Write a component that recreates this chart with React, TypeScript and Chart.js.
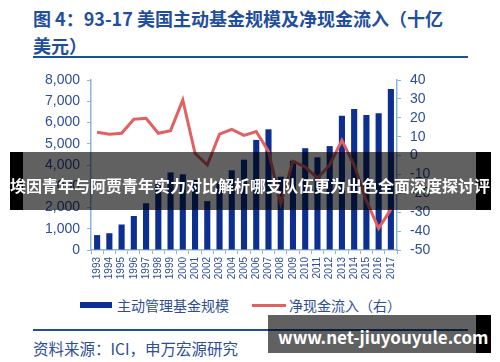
import React, { useEffect, useRef } from "react";
import { Chart, registerables } from "chart.js";

Chart.register(...registerables);

const years = [
  "1993", "1994", "1995", "1996", "1997", "1998", "1999", "2000", "2001", "2002",
  "2003", "2004", "2005", "2006", "2007", "2008", "2009", "2010", "2011", "2012",
  "2013", "2014", "2015", "2016", "2017",
];

const activeAum = [
  700, 790, 1200, 1600, 2200, 3100, 3650, 3560, 3300, 2300,
  3200, 3750, 4250, 5180, 5680, 3450, 4200, 4790, 4360, 4890,
  6320, 6640, 6350, 6430, 7580,
];

const netFlow = [
  12.3, 11.3, 11.8, 19.2, 19.7, 11.8, 13.2, 29.4, 1.2, -5,
  11.3, 13.9, 10.7, 12.7, 2.2, -25.3, -3, -6, -12, -5,
  8, -5, -24, -38.5, -28.5,
];

const leftTicks = { min: 0, max: 8000, step: 1000 };
const rightTicks = { min: -50, max: 40, step: 10 };

const titleLine1 = "图 4：93-17 美国主动基金规模及净现金流入（十亿";
const titleLine2 = "美元）";
const legendBar = "主动管理基金规模";
const legendLine = "净现金流入（右）";
const sourceText = "资料来源：ICI，申万宏源研究";
const bannerText = "埃因青年与阿贾青年实力对比解析哪支队伍更为出色全面深度探讨评";
const urlText = "www.net-jiuyouyule.com";

const BLUE = "#1f4e9e";
const TEXT_BLUE = "#2e4d99";
const AXIS = "#8db4de";
const BAR = "#0d2f8f";
const RED = "#e36062";
const CJK = "'Noto Sans CJK SC', 'Noto Sans', sans-serif";
const LATIN = "'Liberation Sans', Arial, sans-serif";

export default function App() {
  const ref = useRef<HTMLCanvasElement | null>(null);

  useEffect(() => {
    document.body.style.margin = "0";
    const canvas = ref.current;
    if (!canvas) return;
    const chart = new Chart(canvas, {
      type: "bar",
      data: {
        labels: years,
        datasets: [
          {
            type: "line",
            label: legendLine,
            data: netFlow,
            yAxisID: "y1",
            borderColor: RED,
            borderWidth: 3,
            pointRadius: 0,
            tension: 0,
            order: 0,
          },
          {
            type: "bar",
            label: legendBar,
            data: activeAum,
            yAxisID: "y",
            backgroundColor: BAR,
            barPercentage: 0.5,
            categoryPercentage: 1,
            order: 1,
          },
        ],
      },
      options: {
        responsive: false,
        animation: false,
        layout: { padding: { top: 20, left: 0, right: 0, bottom: 0 } },
        plugins: { legend: { display: false }, tooltip: { enabled: false }, title: { display: false } },
        scales: {
          x: {
            offset: true,
            grid: { display: true, drawOnChartArea: false, drawTicks: true, tickLength: 4, color: AXIS, offset: true },
            border: { color: AXIS, width: 1.5 },
            ticks: {
              color: TEXT_BLUE,
              font: { family: LATIN, size: 10 },
              minRotation: 90,
              maxRotation: 90,
              autoSkip: false,
              padding: 3,
            },
            afterFit: (s: any) => { s.height = 40; },
          },
          y: {
            position: "left",
            min: leftTicks.min,
            max: leftTicks.max,
            grid: { display: true, drawOnChartArea: false, drawTicks: true, tickLength: 4, color: AXIS },
            border: { color: AXIS, width: 1.5 },
            ticks: {
              stepSize: leftTicks.step,
              autoSkip: false,
              color: TEXT_BLUE,
              font: { family: LATIN, size: 14 },
              padding: 7,
            },
            afterFit: (s: any) => { s.width = 91; },
          },
          y1: {
            position: "right",
            min: rightTicks.min,
            max: rightTicks.max,
            grid: { display: true, drawOnChartArea: false, drawTicks: true, tickLength: 4, color: AXIS },
            border: { color: AXIS, width: 1.5 },
            ticks: {
              stepSize: rightTicks.step,
              autoSkip: false,
              color: TEXT_BLUE,
              font: { family: LATIN, size: 14 },
              padding: 9,
            },
            afterFit: (s: any) => { s.width = 103; },
          },
        },
      },
    });
    return () => chart.destroy();
  }, []);

  return (
    <div style={{ position: "relative", width: 500, height: 362, background: "#fff", overflow: "hidden" }}>
      <div
        style={{
          position: "absolute", left: 33, top: 5, width: 450,
          fontFamily: CJK, fontWeight: 700, fontSize: 18, lineHeight: "27px", color: BLUE,
          whiteSpace: "nowrap",
        }}
      >
        {titleLine1}
        <br />
        {titleLine2}
      </div>
      <div style={{ position: "absolute", left: 33, top: 56, width: 435, height: 2, background: BLUE }} />

      <div style={{ position: "absolute", left: 0, top: 60, width: 500, height: 230 }}>
        <canvas ref={ref} width={500} height={230} style={{ display: "block" }} />
      </div>

      <div style={{ position: "absolute", left: 80, top: 302, width: 32, height: 6, background: BAR }} />
      <div
        style={{
          position: "absolute", left: 117, top: 295, fontFamily: CJK, fontSize: 14,
          lineHeight: "20px", color: TEXT_BLUE, whiteSpace: "nowrap",
        }}
      >
        {legendBar}
      </div>
      <div style={{ position: "absolute", left: 252, top: 303.5, width: 34, height: 3, background: RED }} />
      <div
        style={{
          position: "absolute", left: 289, top: 295, fontFamily: CJK, fontSize: 14,
          lineHeight: "20px", color: TEXT_BLUE, whiteSpace: "nowrap",
        }}
      >
        {legendLine}
      </div>

      <div style={{ position: "absolute", left: 33, top: 329, width: 435, height: 1.5, background: BLUE }} />
      <div
        style={{
          position: "absolute", left: 33, top: 336, fontFamily: CJK, fontSize: 15.5,
          lineHeight: "24px", color: TEXT_BLUE, whiteSpace: "nowrap",
        }}
      >
        {sourceText}
      </div>

      <div style={{ position: "absolute", left: 10, top: 152, width: 13, height: 58, background: "#000" }} />
      <div style={{ position: "absolute", left: 23, top: 152, width: 453, height: 58, background: "rgba(0,0,0,0.62)" }} />
      <div style={{ position: "absolute", left: 476, top: 152, width: 15, height: 58, background: "#000" }} />
      <div
        style={{
          position: "absolute", left: 10, top: 172, width: 481, height: 26, overflow: "hidden",
          fontFamily: CJK, fontWeight: 700, fontSize: 16, lineHeight: "26px", color: "#fff", whiteSpace: "nowrap",
        }}
      >
        {bannerText}
      </div>

      <div style={{ position: "absolute", left: 268, top: 315, width: 208, height: 38, background: "rgba(0,0,0,0.62)" }} />
      <div style={{ position: "absolute", left: 476, top: 315, width: 15, height: 38, background: "#000" }} />
      <div
        style={{
          position: "absolute", left: 278, top: 322, height: 30, fontFamily: CJK, fontWeight: 700,
          fontSize: 17, lineHeight: "30px", color: "#fff", whiteSpace: "nowrap",
        }}
      >
        {urlText}
      </div>
    </div>
  );
}
